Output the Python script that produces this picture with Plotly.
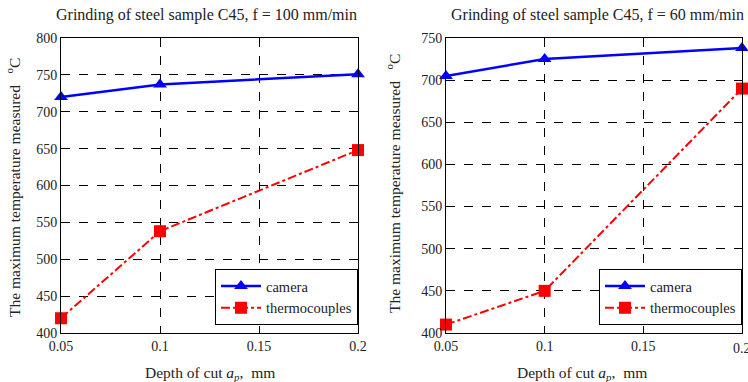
import plotly.graph_objects as go

depth = [0.05, 0.1, 0.2]
cam_100 = [720, 737, 751]
tc_100 = [420, 538, 648]
cam_60 = [705, 725, 738]
tc_60 = [410, 450, 690]
titles = ["Grinding of steel sample C45, f = 100 mm/min",
          "Grinding of steel sample C45, f = 60 mm/min"]
xticks = [0.05, 0.1, 0.15, 0.2]
xticklabels = ["0.05", "0.1", "0.15", "0.2"]

FONT = "Liberation Serif"
W, H = 748, 382
fig = go.Figure()

def px(v): return v / W
def py(v): return 1 - v / H

fig.add_trace(go.Scatter(x=depth, y=cam_100, name="camera", mode="lines+markers",
    line=dict(color="#0000ff", width=2.5), marker=dict(symbol="triangle-up", size=12, color="#0000ff"),
    xaxis="x", yaxis="y", legend="legend", cliponaxis=False))
fig.add_trace(go.Scatter(x=depth, y=tc_100, name="thermocouples", mode="lines+markers",
    line=dict(color="#ff0000", width=2, dash="dashdot"), marker=dict(symbol="square", size=12, color="#ff0000"),
    xaxis="x", yaxis="y", legend="legend", cliponaxis=False))
fig.add_trace(go.Scatter(x=depth, y=cam_60, name="camera", mode="lines+markers",
    line=dict(color="#0000ff", width=2.5), marker=dict(symbol="triangle-up", size=12, color="#0000ff"),
    xaxis="x2", yaxis="y2", legend="legend2", cliponaxis=False))
fig.add_trace(go.Scatter(x=depth, y=tc_60, name="thermocouples", mode="lines+markers",
    line=dict(color="#ff0000", width=2, dash="dashdot"), marker=dict(symbol="square", size=12, color="#ff0000"),
    xaxis="x2", yaxis="y2", legend="legend2", cliponaxis=False))

axcommon = dict(showline=True, mirror=True, linecolor="black", linewidth=1,
                showgrid=True, gridcolor="black", gridwidth=1, griddash="dash",
                zeroline=False, ticks="", automargin=False,
                tickfont=dict(family=FONT, size=14, color="#222"))

ydom = [py(333), py(38)]
legcommon = dict(xanchor="right", yanchor="top", bordercolor="black", borderwidth=1, bgcolor="white",
                 font=dict(family=FONT, size=14.5, color="#222"), tracegroupgap=0, itemwidth=40)
fig.update_layout(
    width=W, height=H, margin=dict(l=0, r=0, t=0, b=0, autoexpand=False),
    paper_bgcolor="white", plot_bgcolor="white",
    font=dict(family=FONT, size=14, color="#222"),
    xaxis=dict(domain=[px(61), px(358)], range=[0.05, 0.2], tickvals=xticks, ticktext=xticklabels, anchor="y", **axcommon),
    yaxis=dict(domain=ydom, range=[400, 800], dtick=50, anchor="x", **axcommon),
    xaxis2=dict(domain=[px(446), px(742)], range=[0.05, 0.2], tickvals=xticks, ticktext=xticklabels, anchor="y2", **axcommon),
    yaxis2=dict(domain=ydom, range=[400, 750], dtick=50, anchor="x2", **axcommon),
    legend=dict(x=px(358), y=py(269), **legcommon),
    legend2=dict(x=px(742), y=py(269), **legcommon),
    showlegend=True,
)

ann = []
for cx, t in [(206, titles[0]), (597, titles[1])]:
    ann.append(dict(x=px(cx), y=py(15), xref="paper", yref="paper", text=t, showarrow=False,
                    font=dict(family=FONT, size=16, color="#222"), xanchor="center", yanchor="middle"))
xt = "Depth of cut <i>a</i><sub><i>p</i></sub>,  mm"
for cx in [210, 582]:
    ann.append(dict(x=px(cx), y=py(373), xref="paper", yref="paper", text=xt, showarrow=False,
                    font=dict(family=FONT, size=15.5, color="#222"), xanchor="center", yanchor="middle"))
yt = "The maximum temperature measured   <sup>o</sup>C"
for cx, cy in [(13, 188), (393, 184)]:
    ann.append(dict(x=px(cx), y=py(cy), xref="paper", yref="paper", text=yt, showarrow=False, textangle=-90,
                    font=dict(family=FONT, size=15.5, color="#222"), xanchor="center", yanchor="middle"))
# last x tick label of the right panel is cut by the page edge in the reference
ann.append(dict(x=xticks[-1], y=0, xref="x2", yref="paper", yshift=py(348) * H, text=xticklabels[-1],
                showarrow=False, font=dict(family=FONT, size=14, color="#222"),
                xanchor="center", yanchor="middle"))
fig.update_layout(annotations=ann)

fig.write_html("out.html")
